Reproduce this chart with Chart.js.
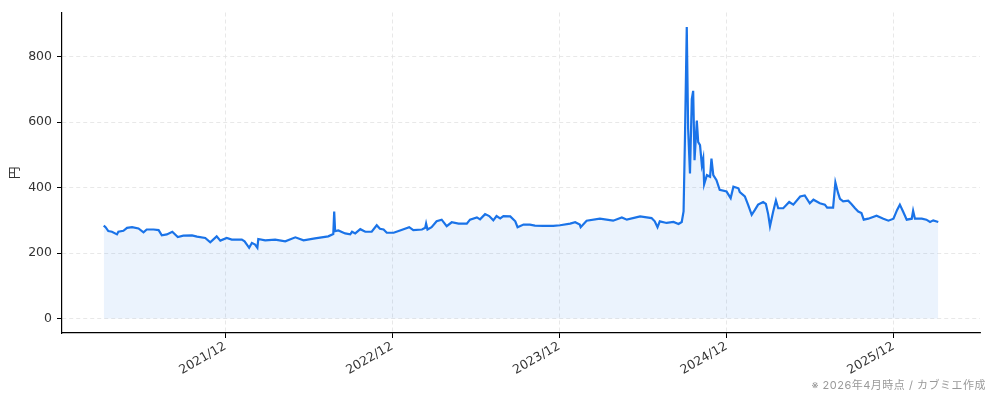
<!DOCTYPE html>
<html>
<head>
<meta charset="utf-8">
<script src="https://cdn.jsdelivr.net/npm/chart.js@4"></script>
<style>
  html, body { margin: 0; padding: 0; background: #fff; }
  #wrap { width: 994px; height: 401px; position: relative; }
</style>
</head>
<body>
<div id="wrap"><canvas id="chart"></canvas></div>
<script>
// 株価の推移（円）
const dates = [
  '2021-03-10','2021-03-14','2021-03-20','2021-03-28','2021-04-08','2021-04-11','2021-04-22','2021-04-30',
  '2021-05-11','2021-05-25','2021-06-05','2021-06-12','2021-06-27','2021-07-08','2021-07-15','2021-07-26',
  '2021-08-07','2021-08-19','2021-08-31','2021-09-19','2021-09-30','2021-10-18','2021-10-29','2021-11-12',
  '2021-11-20','2021-12-04','2021-12-15','2022-01-06','2022-01-12','2022-01-22','2022-01-28','2022-02-04',
  '2022-02-09','2022-02-11','2022-02-26','2022-03-20','2022-04-11','2022-05-03','2022-05-21','2022-06-15',
  '2022-07-14','2022-07-25','2022-07-27','2022-07-29','2022-08-05','2022-08-20','2022-08-31','2022-09-04',
  '2022-09-11','2022-09-22','2022-10-03','2022-10-17','2022-10-28','2022-11-04','2022-11-12','2022-11-19',
  '2022-12-04','2022-12-18','2023-01-07','2023-01-16','2023-02-04','2023-02-11','2023-02-13','2023-02-16',
  '2023-02-25','2023-03-08','2023-03-19','2023-03-30','2023-04-10','2023-04-25','2023-05-13','2023-05-20',
  '2023-06-04','2023-06-11','2023-06-22','2023-07-01','2023-07-10','2023-07-17','2023-07-25','2023-08-01',
  '2023-08-16','2023-08-27','2023-09-01','2023-09-14','2023-09-28','2023-10-09','2023-10-27','2023-11-18',
  '2023-12-03','2023-12-25','2024-01-05','2024-01-15','2024-01-17','2024-01-30','2024-02-28','2024-03-28',
  '2024-04-16','2024-04-27','2024-05-26','2024-06-20','2024-06-27','2024-07-03','2024-07-08','2024-07-23',
  '2024-08-07','2024-08-18','2024-08-25','2024-08-29','2024-09-01','2024-09-05','2024-09-08','2024-09-12',
  '2024-09-16','2024-09-19','2024-09-22','2024-09-27','2024-09-30','2024-10-04','2024-10-08','2024-10-11',
  '2024-10-13','2024-10-19','2024-10-26','2024-10-29','2024-11-02','2024-11-09','2024-11-16','2024-12-01',
  '2024-12-10','2024-12-16','2024-12-27','2024-12-30','2025-01-10','2025-01-17','2025-01-25','2025-02-01',
  '2025-02-08','2025-02-19','2025-02-25','2025-03-02','2025-03-06','2025-03-13','2025-03-19','2025-03-24',
  '2025-04-04','2025-04-17','2025-04-26','2025-05-11','2025-05-21','2025-06-01','2025-06-09','2025-06-23',
  '2025-07-04','2025-07-09','2025-07-22','2025-07-27','2025-08-02','2025-08-06','2025-08-13','2025-08-24',
  '2025-08-31','2025-09-08','2025-09-15','2025-09-22','2025-09-27','2025-10-07','2025-10-25','2025-11-09',
  '2025-11-20','2025-12-01','2025-12-09','2025-12-15','2025-12-22','2025-12-30','2026-01-10','2026-01-13',
  '2026-01-17','2026-02-01','2026-02-11','2026-02-19','2026-02-26','2026-03-09'
];
const prices = [
  284, 279, 267, 265, 257, 265, 268, 277,
  279, 275, 263, 272, 272, 270, 254, 257,
  265, 249, 253, 254, 250, 246, 233, 251,
  238, 246, 241, 241, 236, 216, 231, 226,
  216, 243, 239, 241, 236, 248, 239, 245,
  251, 258, 327, 267, 269, 260, 257, 265,
  260, 273, 265, 265, 285, 274, 272, 262,
  262, 269, 279, 270, 272, 277, 290, 272,
  279, 297, 302, 282, 294, 290, 290, 302,
  309, 303, 319, 313, 300, 313, 306, 313,
  312, 297, 279, 287, 287, 284, 283, 283,
  285, 290, 294, 287, 279, 299, 305, 299,
  309, 302, 312, 307, 297, 279, 297, 292,
  295, 289, 295, 327, 549, 891, 580, 443,
  671, 696, 484, 605, 539, 530, 469, 489,
  410, 438, 433, 489, 438, 423, 393, 388,
  368, 403, 398, 386, 373, 348, 317, 332,
  348, 356, 350, 319, 282, 327, 361, 337,
  337, 356, 348, 373, 376, 352, 363, 352,
  348, 339, 339, 416, 383, 366, 358, 360,
  350, 337, 327, 322, 302, 305, 314, 305,
  299, 305, 332, 348, 327, 302, 305, 329,
  305, 305, 302, 295, 300, 295
];

// 目盛り
const xTickDates = ['2021-12-01', '2022-12-01', '2023-12-01', '2024-12-01', '2025-12-01'];
const xTickLabels = ['2021/12', '2022/12', '2023/12', '2024/12', '2025/12'];
const yTicks = [0, 200, 400, 600, 800];

const LINE_COLOR = '#1a73e8';
const FILL_COLOR = 'rgba(26, 115, 232, 0.085)';
const GRID_COLOR = '#e2e2e2';
const FONT = '"DejaVu Sans", "Noto Sans CJK JP", sans-serif';
const NOTE_FONT = 'Inter, "Noto Sans CJK JP", sans-serif';

const points = dates.map((d, i) => ({ x: Date.parse(d), y: prices[i] }));

// matplotlib風の5%マージン
const xFirst = points[0].x;
const xLast = points[points.length - 1].x;
const xPad = (xLast - xFirst) * 0.05;
const yTop = Math.max(...prices);
const yPad = yTop * 0.05;

const footnote = {
  id: 'footnote',
  afterDraw(chart) {
    const ctx = chart.ctx;
    ctx.save();
    ctx.font = '11px ' + NOTE_FONT;
    ctx.letterSpacing = '0.5px';
    ctx.fillStyle = '#999';
    ctx.textAlign = 'right';
    ctx.textBaseline = 'alphabetic';
    ctx.fillText('※ 2026年4月時点 / カブミエ作成', chart.width - 8, 389);
    ctx.restore();
  }
};

const gridOpts = {
  color: GRID_COLOR,
  lineWidth: 0.8,
  borderDash: [4, 3],
  tickLength: 5,
  tickColor: '#000',
  tickWidth: 1,
  tickBorderDash: []
};

const ctx = document.getElementById('chart').getContext('2d');
new Chart(ctx, {
  type: 'line',
  data: {
    datasets: [{
      data: points,
      borderColor: LINE_COLOR,
      backgroundColor: FILL_COLOR,
      borderWidth: 2.2,
      pointRadius: 0,
      tension: 0,
      fill: 'origin'
    }]
  },
  options: {
    responsive: true,
    maintainAspectRatio: false,
    animation: false,
    layout: { padding: { left: 4, right: 14, top: 10, bottom: 0 } },
    plugins: {
      legend: { display: false },
      tooltip: { enabled: false }
    },
    scales: {
      x: {
        type: 'linear',
        min: xFirst - xPad,
        max: xLast + xPad,
        afterBuildTicks: (scale) => {
          scale.ticks = xTickDates.map(d => ({ value: Date.parse(d) }));
        },
        afterFit: (scale) => { scale.height = 68; },
        ticks: {
          color: '#333',
          font: { family: FONT, size: 12.5 },
          minRotation: 30,
          maxRotation: 30,
          autoSkip: false,
          padding: 1,
          callback: (value, index) => xTickLabels[index]
        },
        grid: gridOpts,
        border: { display: true, color: '#000', width: 1.2, dash: [4, 3] }
      },
      y: {
        min: -yPad,
        max: yTop + yPad,
        afterBuildTicks: (scale) => {
          scale.ticks = yTicks.map(v => ({ value: v }));
        },
        afterFit: (scale) => { scale.width = 58; },
        title: {
          display: true,
          text: '円',
          color: '#333',
          font: { family: FONT, size: 12.5 }
        },
        ticks: {
          color: '#333',
          font: { family: FONT, size: 12.5 },
          padding: 5
        },
        grid: gridOpts,
        border: { display: true, color: '#000', width: 1.2, dash: [4, 3] }
      }
    }
  },
  plugins: [footnote]
});
</script>
</body>
</html>
